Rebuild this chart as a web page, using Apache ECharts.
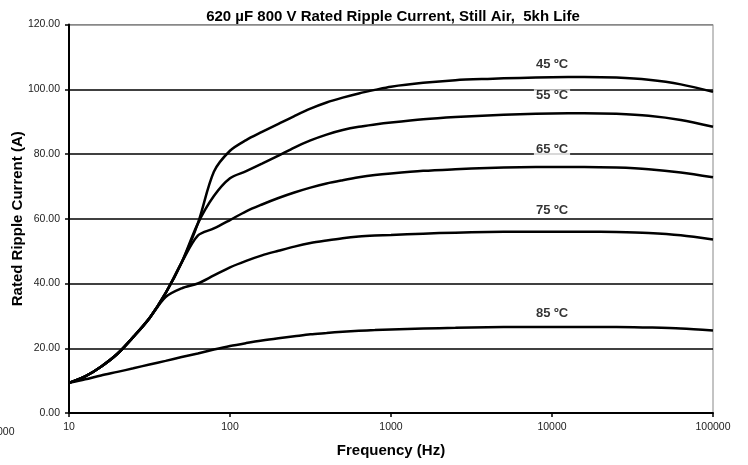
<!DOCTYPE html>
<html><head><meta charset="utf-8">
<script src="https://cdn.jsdelivr.net/npm/echarts@6/dist/echarts.min.js"></script>
<style>html,body{margin:0;padding:0;background:#fff}#c{width:748px;height:465px}</style>
</head><body><div id="c"></div>
<script>
const xTicks = [10, 100, 1000, 10000, 100000];
const yTicks = [0, 20, 40, 60, 80, 100, 120];

const freq = [10, 12.6, 15.8, 20, 25.1, 31.6, 39.8, 50.1, 63.1, 79.4, 100, 126, 158, 200, 251, 316, 398, 501, 631, 794, 1000, 1585, 2512, 3981, 6310, 10000, 15849, 25119, 39811, 63096, 100000];

const v45 = [9.3, 11.3, 14.3, 18.3, 23.5, 29.3, 37, 46.5, 58.5, 74.5, 81, 84.3, 86.8, 89.3, 91.7, 94, 95.9, 97.4, 98.7, 99.8, 100.8, 102, 102.8, 103.2, 103.5, 103.7, 103.8, 103.6, 102.9, 101.5, 99.2];
const v55 = [9.3, 11.3, 14.3, 18.3, 23.5, 29.3, 37, 46.5, 58.5, 67, 72.5, 74.7, 77, 79.5, 82, 84.2, 86, 87.4, 88.4, 89.1, 89.7, 90.7, 91.4, 91.9, 92.3, 92.5, 92.6, 92.4, 91.8, 90.5, 88.4];
const v65 = [9.3, 11.3, 14.3, 18.3, 23.5, 29.3, 37, 46.5, 54.8, 57, 59.6, 62.3, 64.4, 66.4, 68.1, 69.6, 70.9, 71.9, 72.8, 73.5, 74, 74.8, 75.3, 75.7, 75.9, 76, 76, 75.8, 75.3, 74.3, 72.8];
const v75 = [9.3, 11.3, 14.3, 18.3, 23.5, 29.3, 35.8, 38.5, 40, 42.5, 45, 47, 48.7, 50.1, 51.4, 52.5, 53.3, 54, 54.5, 54.8, 55, 55.4, 55.7, 55.9, 56, 56, 56, 55.9, 55.6, 54.9, 53.6];
const v85 = [9.3, 10.4, 11.6, 12.7, 13.8, 15, 16.1, 17.3, 18.4, 19.6, 20.7, 21.6, 22.4, 23.1, 23.7, 24.3, 24.7, 25.1, 25.4, 25.6, 25.8, 26.1, 26.3, 26.5, 26.6, 26.6, 26.6, 26.6, 26.4, 26.1, 25.5];

const labelText = ['45 ºC', '55 ºC', '65 ºC', '75 ºC', '85 ºC'];
const labelFreq = [10000, 10000, 10000, 10000, 10000];
const labelVal = [107.8, 98.0, 81.4, 62.5, 30.9];

const pairs = (f, v) => f.map((x, i) => [x, v[i]]);
const curve = (name, v) => ({
  name, type: 'line', data: pairs(freq, v), smooth: 0.3, showSymbol: false, symbol: 'none',
  lineStyle: { color: '#000', width: 2.5 }, z: 5, silent: true
});
const FONT = 'Liberation Sans, Arial, sans-serif';

const chart = echarts.init(document.getElementById('c'), null, { renderer: 'canvas' });
chart.setOption({
  animation: false,
  backgroundColor: '#fff',
  textStyle: { fontFamily: FONT },
  title: {
    text: '620 µF 800 V Rated Ripple Current, Still Air,  5kh Life',
    left: 388, top: 4, textAlign: 'center',
    textStyle: { fontSize: 15, fontWeight: 'bold', color: '#000', fontFamily: FONT }
  },
  grid: { left: 69, right: 35, top: 24.5, bottom: 52, containLabel: false, outerBoundsMode: 'none',
          show: true, borderColor: '#888', borderWidth: 1 },
  xAxis: {
    type: 'log', logBase: 10, min: xTicks[0], max: xTicks[xTicks.length - 1],
    name: 'Frequency (Hz)', nameLocation: 'middle', nameGap: 30, nameMoveOverlap: false,
    nameTextStyle: { fontSize: 15, fontWeight: 'bold', color: '#000' },
    axisLine: { lineStyle: { color: '#000', width: 2 } },
    axisTick: { show: true, length: 4, lineStyle: { color: '#000', width: 1.5 } },
    axisLabel: { fontSize: 10.5, color: '#222', margin: 9, formatter: v => String(Math.round(v)) },
    splitLine: { show: false }, minorTick: { show: false }
  },
  yAxis: {
    type: 'value', min: yTicks[0], max: yTicks[yTicks.length - 1], interval: 20,
    name: 'Rated Ripple Current (A)', nameLocation: 'middle', nameGap: 44, nameRotate: 90, nameMoveOverlap: false,
    nameTextStyle: { fontSize: 15, fontWeight: 'bold', color: '#000' },
    axisLine: { show: true, lineStyle: { color: '#000', width: 2 } },
    axisTick: { show: true, length: 4, lineStyle: { color: '#000', width: 1.5 } },
    axisLabel: { fontSize: 10.5, color: '#222', margin: 9, formatter: v => v.toFixed(2) },
    splitLine: { show: true, lineStyle: { color: ['#000', '#000', '#000', '#000', '#000', '#000', '#888'], width: 1.6 } }
  },
  graphic: [{
    type: 'text', x: 14.5, y: 427,
    style: { text: '1000', fontSize: 10.5, fill: '#222', textAlign: 'right', fontFamily: FONT }
  }],
  series: [
    curve('45', v45),
    curve('55', v55),
    curve('65', v65),
    curve('75', v75),
    curve('85', v85),
    {
      type: 'scatter', symbolSize: 0, z: 10, silent: true,
      data: labelFreq.map((f, i) => ({ value: [f, labelVal[i]], name: labelText[i] })),
      label: {
        show: true, position: 'inside', formatter: p => p.name,
        fontSize: 13, fontWeight: 'bold', color: '#000', backgroundColor: '#fff', padding: [0, 2]
      }
    }
  ]
});
</script></body></html>
